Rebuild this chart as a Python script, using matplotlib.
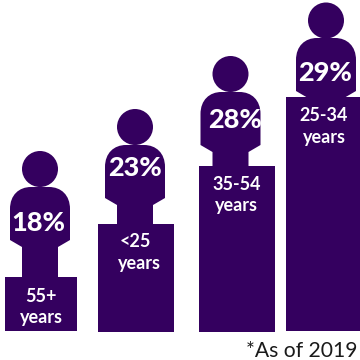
"""Pictogram of age-group shares: a person standing on a pedestal for each group."""

import matplotlib

matplotlib.use("Agg")
import matplotlib.pyplot as plt
from matplotlib.patches import Circle, PathPatch
from matplotlib.path import Path

age_top = ["55+", "<25", "35-54", "25-34"]
age_bottom = ["years", "years", "years", "years"]
shares = [18, 23, 28, 29]
pedestal_heights = [54, 108, 166, 234]
footnote = "*As of 2019"

PURPLE = "#34005f"
pedestal_left = [5, 98, 199, 286]
pedestal_width = [72, 76, 76, 74]
pedestal_base = [331, 332, 332, 331]
person_x = [40, 135, 230.5, 326]
body_top = [187, 145, 92, 38]
head_cy = [169, 127, 74, 20.5]
share_x = [38, 135, 235, 325]
share_y = [221, 166, 118, 71]
label_x = [(41, 41), (135, 139), (236.5, 236.5), (324, 324)]
label_y = [(295, 318), (240, 263), (183, 205), (114, 137)]


def body_path(cx, top, neck_bottom):
    # torso with rounded shoulders, tapering into the neck
    half, neck = 30, 18
    left, right = cx - half, cx + half
    verts = [
        (cx - neck, neck_bottom), (cx - neck, top + 60), (left, top + 53),
        (left, top + 22),
        (left, top + 8), (left + 9, top), (left + 21, top),
        (right - 21, top),
        (right - 9, top), (right, top + 8), (right, top + 22),
        (right, top + 53), (cx + neck, top + 60), (cx + neck, neck_bottom),
        (cx - neck, neck_bottom),
    ]
    codes = [
        Path.MOVETO, Path.LINETO, Path.LINETO,
        Path.LINETO,
        Path.CURVE4, Path.CURVE4, Path.CURVE4,
        Path.LINETO,
        Path.CURVE4, Path.CURVE4, Path.CURVE4,
        Path.LINETO, Path.LINETO, Path.LINETO,
        Path.CLOSEPOLY,
    ]
    return Path(verts, codes)


fig = plt.figure(figsize=(3.6, 3.6), dpi=100)
ax = fig.add_axes([0, 0, 1, 1])
ax.set_xlim(0, 360)
ax.set_ylim(360, 0)
ax.axis("off")

tops = [b - h for b, h in zip(pedestal_base, pedestal_heights)]
ax.bar(pedestal_left, pedestal_heights, width=pedestal_width, bottom=tops,
       align="edge", color=PURPLE, linewidth=0)

for i, share in enumerate(shares):
    ax.add_patch(Circle((person_x[i], head_cy[i]), 18, color=PURPLE, linewidth=0))
    ax.add_patch(PathPatch(body_path(person_x[i], body_top[i], tops[i] + 1),
                           facecolor=PURPLE, linewidth=0))
    ax.text(share_x[i], share_y[i], f"{share}%", color="white", fontsize=19.5,
            fontfamily="Lato", fontweight="black", ha="center", va="center_baseline")
    ax.text(label_x[i][0], label_y[i][0], age_top[i], color="white", fontsize=13,
            fontfamily="Lato", fontweight="bold", ha="center", va="center_baseline")
    ax.text(label_x[i][1], label_y[i][1], age_bottom[i], color="white", fontsize=13,
            fontfamily="Lato", fontweight="bold", ha="center", va="center")

ax.text(358, 349, footnote, color="#1a1a1a", fontsize=15.2, fontfamily="Lato",
        ha="right", va="center_baseline")

fig.savefig("out.png", dpi=100)
